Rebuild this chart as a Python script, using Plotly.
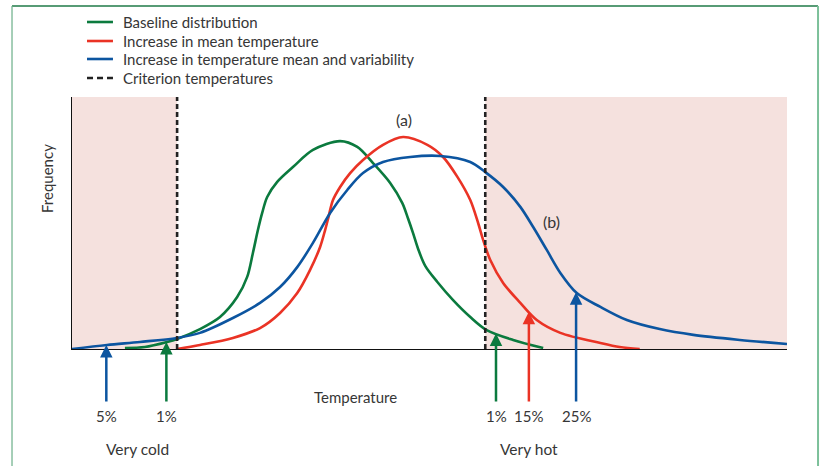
import numpy as np
import plotly.graph_objects as go

# ---- data (arbitrary temperature units 0-100, frequency 0-100) ----
baseline_x = [7.4, 10.2, 13.3, 14.7, 17.9, 20.7, 23.1, 24.5, 25.3, 26.0, 26.6, 27.3, 28.7, 30.9,
              33.7, 37.5, 39.9, 42.1, 44.5, 46.2, 47.0, 47.7, 48.4, 49.4, 51.1, 53.3, 55.7, 58.0,
              61.7, 65.9]
baseline_y = [0.4, 0.8, 2.8, 4.0, 7.9, 12.7, 20.6, 28.6, 38.1, 47.2, 54.0, 60.3, 66.3, 72.2,
              79.0, 82.5, 80.2, 73.8, 65.9, 57.9, 51.8, 46.0, 39.8, 33.0, 26.6, 19.4, 12.7, 7.5,
              3.6, 0.4]

mean_x = [14.7, 17.9, 22.5, 26.3, 29.1, 31.5, 33.3, 34.7, 35.4, 35.8, 36.5, 37.5, 38.9, 40.7,
          43.5, 46.3, 49.7, 51.9, 53.9, 55.7, 56.8, 57.5, 58.5, 60.3, 62.7, 65.0, 68.3, 73.9,
          76.6, 79.4]
mean_y = [0.0, 1.6, 4.4, 8.3, 14.3, 22.2, 31.4, 40.5, 47.2, 51.5, 59.1, 64.3, 69.8, 75.0,
          81.0, 84.1, 81.0, 76.2, 68.3, 59.1, 50.0, 43.3, 35.3, 26.2, 18.3, 11.5, 6.4, 2.4,
          0.8, 0.0]

var_x = [0.0, 4.9, 9.5, 14.7, 17.9, 22.5, 26.3, 29.1, 31.5, 33.7, 36.1, 38.5, 40.7, 43.5,
         47.3, 51.5, 55.7, 57.8, 60.3, 62.7, 64.5, 66.4, 68.3, 70.6, 73.9, 77.6, 82.2, 86.9,
         93.4, 100.0]
var_y = [0.0, 1.6, 2.8, 4.4, 6.4, 12.3, 18.3, 24.6, 32.5, 42.1, 54.0, 63.1, 69.8, 74.2,
         76.2, 76.6, 74.2, 70.2, 64.3, 56.4, 48.4, 39.3, 30.2, 22.2, 16.7, 11.5, 7.9, 5.6,
         3.6, 2.0]

criterion_cold = 14.7
criterion_hot = 57.8

# arrows: x position, label, series
arrow_x = [4.8, 13.2, 59.3, 63.9, 70.5]
arrow_labels = ["5%", "1%", "1%", "15%", "25%"]
arrow_series = ["var", "base", "base", "mean", "var"]

legend_names = ["Baseline distribution", "Increase in mean temperature",
                "Increase in temperature mean and variability", "Criterion temperatures"]

GREEN = "#0b7a3e"
RED = "#ea3325"
BLUE = "#0c55a0"
SHADE = "#f5e1de"
TXT = "#363636"
FONT = "Lato"

series = {
    "base": (baseline_x, baseline_y, GREEN),
    "mean": (mean_x, mean_y, RED),
    "var": (var_x, var_y, BLUE),
}

fig = go.Figure()
for key in ["base", "mean", "var"]:
    xs, ys, col = series[key]
    fig.add_trace(go.Scatter(x=xs, y=ys, mode="lines",
                             line=dict(color=col, width=2.6, shape="spline", smoothing=0.9),
                             showlegend=False, hoverinfo="skip"))

shapes = []
# shaded extreme regions
shapes.append(dict(type="rect", xref="x", yref="y", x0=0, x1=criterion_cold, y0=0, y1=100,
                   fillcolor=SHADE, line=dict(width=0), layer="below"))
shapes.append(dict(type="rect", xref="x", yref="y", x0=criterion_hot, x1=100, y0=0, y1=100,
                   fillcolor=SHADE, line=dict(width=0), layer="below"))
# criterion lines
for cx in [criterion_cold, criterion_hot]:
    shapes.append(dict(type="line", xref="x", yref="y", x0=cx, x1=cx, y0=0, y1=100,
                       line=dict(color="#222222", width=2.6, dash="5px,3px"), layer="above"))

# frame border
shapes.append(dict(type="line", xref="paper", yref="paper", x0=-0.0839, x1=1.0434, y0=1.3611, y1=1.3611,
                   line=dict(color="#1f7a47", width=1.5)))
shapes.append(dict(type="line", xref="paper", yref="paper", x0=-0.0839, x1=-0.0839, y0=1.3611, y1=-0.6,
                   line=dict(color="#6aae88", width=1.2)))
shapes.append(dict(type="line", xref="paper", yref="paper", x0=1.0434, x1=1.0434, y0=1.3611, y1=-0.6,
                   line=dict(color="#7cc09a", width=2)))

# manual legend
leg_cols = [GREEN, RED, BLUE, "#222222"]
leg_y = [1.2976, 1.2222, 1.1508, 1.0754]
annotations = []
for name, col, yy in zip(legend_names, leg_cols, leg_y):
    dash = "6px,4px" if col == "#222222" else "solid"
    shapes.append(dict(type="line", xref="paper", yref="paper", x0=0.021, x1=0.0573, y0=yy, y1=yy,
                       line=dict(color=col, width=2.6, dash=dash)))
    annotations.append(dict(xref="paper", yref="paper", x=0.0685, y=yy, text=name, showarrow=False,
                            xanchor="left", yanchor="middle", font=dict(size=15, color=TXT, family=FONT)))

# arrows + percentage labels
tail_y = -21.4
for ax_, lab_, s in zip(arrow_x, arrow_labels, arrow_series):
    xs, ys, col = series[s]
    tip = float(np.interp(ax_, xs, ys))
    annotations.append(dict(x=ax_, y=tip, ax=ax_, ay=tail_y, xref="x", yref="y", axref="x", ayref="y",
                            text="", showarrow=True, arrowhead=2, arrowsize=1, arrowwidth=2.5,
                            arrowcolor=col, standoff=0))
    annotations.append(dict(x=ax_, y=-0.266, xref="x", yref="paper", text=lab_, showarrow=False,
                            xanchor="center", yanchor="middle", font=dict(size=15, color=TXT, family=FONT)))

def lab(x, y, text, xref="x", angle=0, size=15):
    return dict(x=x, y=y, xref=xref, yref="paper", text=text, showarrow=False, textangle=angle,
                xanchor="center", yanchor="middle", font=dict(size=size, color=TXT, family=FONT))

annotations += [
    lab(9.1, -0.397, "Very cold", size=15.5),
    lab(63.9, -0.397, "Very hot", size=15.5),
    lab(39.7, -0.19, "Temperature", size=15),
    lab(-0.035, 0.6786, "Frequency", xref="paper", angle=-90, size=15),
    lab(46.4, 0.909, "(a)", size=16),
    lab(67.0, 0.504, "(b)", size=16),
]

fig.update_layout(
    width=821, height=466,
    margin=dict(l=72, r=34, t=97, b=117),
    paper_bgcolor="white", plot_bgcolor="rgba(0,0,0,0)",
    shapes=shapes, annotations=annotations, showlegend=False,
    xaxis=dict(range=[0, 100], showline=True, linecolor="#111111", linewidth=1.3, showgrid=False,
               zeroline=False, showticklabels=False, ticks="", fixedrange=True),
    yaxis=dict(range=[0, 100], showline=True, linecolor="#111111", linewidth=1.3, showgrid=False,
               zeroline=False, showticklabels=False, ticks="", fixedrange=True),
    font=dict(family=FONT, color=TXT),
    hovermode=False,
)

# remove the default page margin so the figure sits at the window origin
fig.write_html("out.html", config={"displayModeBar": False, "staticPlot": True},
               post_script="document.body.style.margin='0px';")
